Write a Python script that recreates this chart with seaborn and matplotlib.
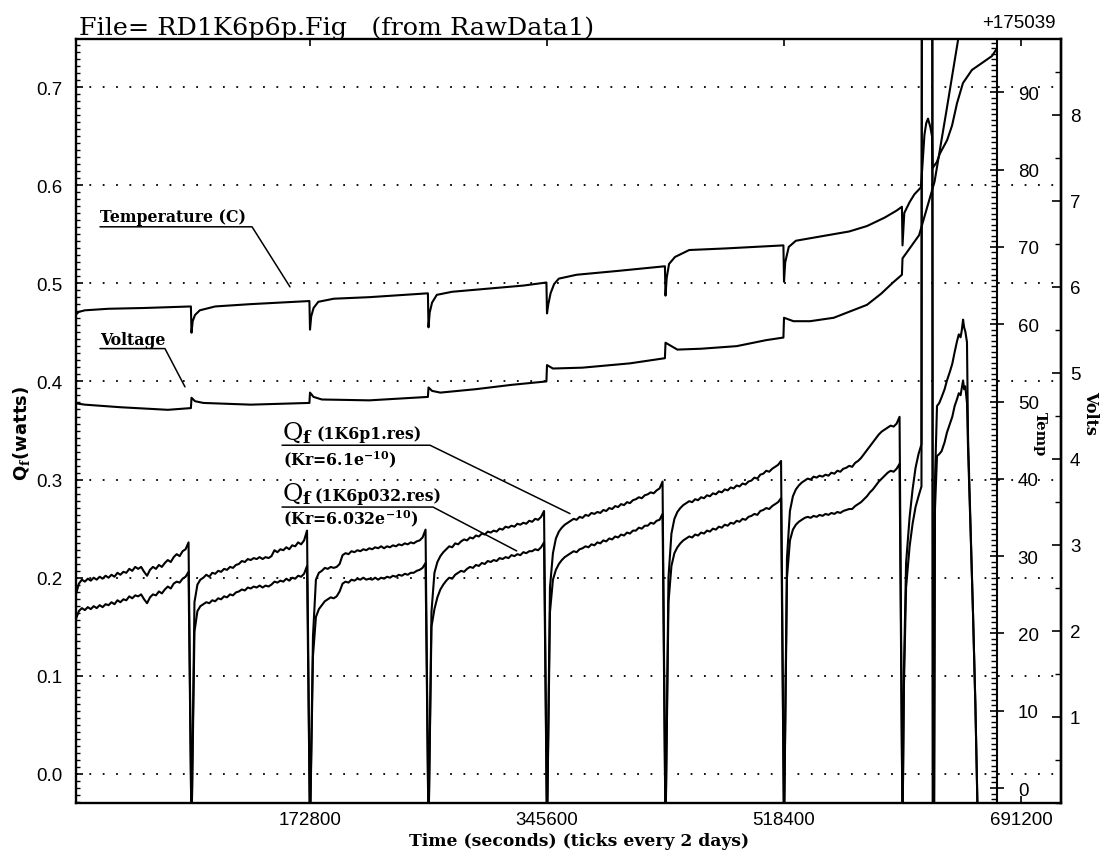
import numpy as np
import pandas as pd
import matplotlib
matplotlib.use("Agg")
import matplotlib.pyplot as plt
from matplotlib.ticker import FixedLocator, MultipleLocator
import seaborn as sns

sns.set_theme(style="white")
plt.rcParams.update({
    "font.family": ["Liberation Sans", "DejaVu Sans"],
    "mathtext.fontset": "dejavuserif",
    "axes.edgecolor": "black",
    "axes.linewidth": 1.5,
    "xtick.color": "black",
    "ytick.color": "black",
    "text.color": "black",
    "axes.labelcolor": "black",
})

DAY = 86400.0
STEP = 0.025  # days between Qf samples within each daily run

# ---- Qf from 1K6p1.res (Kr = 6.1e-10), one row per day, 40 samples each ----
qf_p1_rows = [
    [0.158, 0.183, 0.194, 0.198, 0.196, 0.199, 0.197, 0.200, 0.198, 0.201,
     0.199, 0.202, 0.200, 0.203, 0.201, 0.205, 0.203, 0.206, 0.205, 0.209,
     0.207, 0.211, 0.209, 0.211, 0.206, 0.202, 0.208, 0.211, 0.209, 0.213,
     0.211, 0.215, 0.218, 0.216, 0.221, 0.224, 0.222, 0.227, 0.229, 0.236],
    [-0.060, 0.175, 0.193, 0.198, 0.200, 0.203, 0.201, 0.205, 0.204, 0.207,
     0.206, 0.209, 0.208, 0.211, 0.210, 0.213, 0.214, 0.217, 0.216, 0.219,
     0.218, 0.220, 0.219, 0.221, 0.219, 0.221, 0.220, 0.222, 0.228, 0.226,
     0.229, 0.228, 0.231, 0.229, 0.233, 0.232, 0.236, 0.234, 0.238, 0.248],
    [-0.060, 0.140, 0.198, 0.205, 0.207, 0.210, 0.209, 0.211, 0.210, 0.211,
     0.214, 0.223, 0.225, 0.224, 0.227, 0.226, 0.228, 0.227, 0.229, 0.228,
     0.230, 0.229, 0.231, 0.230, 0.232, 0.230, 0.232, 0.231, 0.233, 0.232,
     0.234, 0.233, 0.235, 0.234, 0.236, 0.235, 0.237, 0.238, 0.241, 0.249],
    [-0.060, 0.165, 0.205, 0.216, 0.222, 0.226, 0.229, 0.232, 0.231, 0.235,
     0.234, 0.237, 0.239, 0.238, 0.241, 0.240, 0.243, 0.242, 0.245, 0.244,
     0.247, 0.246, 0.248, 0.247, 0.250, 0.249, 0.252, 0.251, 0.253, 0.252,
     0.255, 0.254, 0.256, 0.255, 0.258, 0.257, 0.260, 0.259, 0.262, 0.268],
    [-0.060, 0.190, 0.225, 0.240, 0.247, 0.251, 0.254, 0.256, 0.258, 0.260,
     0.259, 0.262, 0.261, 0.264, 0.263, 0.266, 0.265, 0.267, 0.266, 0.269,
     0.268, 0.271, 0.270, 0.273, 0.272, 0.275, 0.274, 0.277, 0.276, 0.279,
     0.280, 0.282, 0.281, 0.284, 0.285, 0.287, 0.286, 0.289, 0.291, 0.298],
    [-0.060, 0.200, 0.245, 0.260, 0.267, 0.271, 0.274, 0.276, 0.278, 0.277,
     0.280, 0.279, 0.282, 0.281, 0.284, 0.283, 0.286, 0.285, 0.288, 0.287,
     0.290, 0.289, 0.292, 0.291, 0.294, 0.293, 0.296, 0.295, 0.298, 0.299,
     0.302, 0.301, 0.305, 0.306, 0.309, 0.308, 0.311, 0.313, 0.315, 0.319],
    [-0.060, 0.220, 0.268, 0.283, 0.290, 0.294, 0.297, 0.299, 0.301, 0.300,
     0.303, 0.302, 0.304, 0.303, 0.305, 0.304, 0.307, 0.306, 0.309, 0.308,
     0.311, 0.312, 0.314, 0.313, 0.317, 0.319, 0.322, 0.326, 0.330, 0.334,
     0.338, 0.342, 0.346, 0.349, 0.351, 0.353, 0.355, 0.354, 0.357, 0.364],
]

# ---- Qf from 1K6p032.res (Kr = 6.032e-10) ----
qf_p032_rows = [
    [0.140, 0.158, 0.166, 0.169, 0.167, 0.170, 0.168, 0.171, 0.169, 0.172,
     0.170, 0.173, 0.172, 0.175, 0.173, 0.177, 0.175, 0.178, 0.177, 0.181,
     0.179, 0.182, 0.181, 0.183, 0.178, 0.174, 0.180, 0.183, 0.182, 0.186,
     0.184, 0.188, 0.191, 0.189, 0.194, 0.196, 0.195, 0.199, 0.201, 0.206],
    [-0.060, 0.145, 0.166, 0.171, 0.173, 0.175, 0.174, 0.177, 0.176, 0.179,
     0.178, 0.181, 0.180, 0.183, 0.182, 0.185, 0.186, 0.188, 0.187, 0.190,
     0.189, 0.191, 0.190, 0.192, 0.190, 0.192, 0.191, 0.193, 0.196, 0.195,
     0.197, 0.196, 0.199, 0.197, 0.200, 0.199, 0.202, 0.201, 0.204, 0.212],
    [-0.060, 0.120, 0.160, 0.168, 0.172, 0.176, 0.178, 0.180, 0.179, 0.181,
     0.186, 0.194, 0.196, 0.195, 0.198, 0.197, 0.199, 0.198, 0.200, 0.198,
     0.199, 0.198, 0.200, 0.198, 0.200, 0.199, 0.201, 0.200, 0.202, 0.201,
     0.203, 0.202, 0.204, 0.203, 0.205, 0.205, 0.207, 0.208, 0.210, 0.215],
    [-0.060, 0.150, 0.168, 0.180, 0.188, 0.193, 0.197, 0.200, 0.199, 0.203,
     0.205, 0.207, 0.206, 0.209, 0.211, 0.210, 0.213, 0.212, 0.215, 0.214,
     0.217, 0.216, 0.218, 0.217, 0.220, 0.219, 0.221, 0.220, 0.223, 0.222,
     0.224, 0.223, 0.226, 0.225, 0.227, 0.227, 0.229, 0.228, 0.231, 0.236],
    [-0.060, 0.165, 0.198, 0.208, 0.214, 0.218, 0.221, 0.223, 0.225, 0.227,
     0.226, 0.229, 0.230, 0.232, 0.231, 0.234, 0.233, 0.236, 0.235, 0.238,
     0.237, 0.240, 0.239, 0.242, 0.241, 0.244, 0.243, 0.246, 0.245, 0.248,
     0.248, 0.251, 0.250, 0.253, 0.253, 0.256, 0.255, 0.258, 0.259, 0.265],
    [-0.060, 0.175, 0.212, 0.225, 0.231, 0.235, 0.238, 0.240, 0.242, 0.241,
     0.244, 0.243, 0.246, 0.245, 0.248, 0.247, 0.250, 0.249, 0.252, 0.251,
     0.254, 0.253, 0.256, 0.255, 0.258, 0.257, 0.260, 0.259, 0.262, 0.263,
     0.265, 0.264, 0.268, 0.269, 0.271, 0.270, 0.273, 0.275, 0.277, 0.281],
    [-0.060, 0.200, 0.238, 0.249, 0.254, 0.257, 0.259, 0.261, 0.262, 0.261,
     0.263, 0.262, 0.264, 0.263, 0.265, 0.264, 0.266, 0.265, 0.267, 0.266,
     0.268, 0.269, 0.270, 0.270, 0.273, 0.275, 0.277, 0.280, 0.283, 0.287,
     0.290, 0.294, 0.298, 0.301, 0.304, 0.307, 0.309, 0.308, 0.311, 0.316],
]

# ---- last run (day 7 onward): irregular sampling around the power excursion ----
final_days = [7.000, 7.012, 7.030, 7.060, 7.085, 7.110, 7.135, 7.160, 7.166, 7.249,
              7.256, 7.266, 7.274, 7.291, 7.310, 7.330, 7.355, 7.375, 7.400, 7.420,
              7.440, 7.460, 7.475, 7.490, 7.500, 7.511, 7.520, 7.530, 7.544, 7.553,
              7.575, 7.595, 7.615, 7.637]
final_p1 = [-0.060, 0.105, 0.215, 0.262, 0.290, 0.312, 0.326, 0.336, 1.200, 1.200,
            -0.060, -0.060, 0.300, 0.375, 0.378, 0.384, 0.392, 0.401, 0.410, 0.418,
            0.430, 0.441, 0.448, 0.445, 0.452, 0.463, 0.455, 0.451, 0.440, 0.343,
            0.250, 0.163, 0.070, -0.060]
final_p032 = [-0.060, 0.090, 0.190, 0.232, 0.255, 0.272, 0.283, 0.293, 1.200, 1.200,
              -0.060, -0.060, 0.270, 0.324, 0.326, 0.329, 0.338, 0.348, 0.357, 0.364,
              0.375, 0.382, 0.388, 0.386, 0.393, 0.401, 0.392, 0.395, 0.378, 0.331,
              0.245, 0.163, 0.070, -0.060]

# ---- cell temperature (C) ----
temp_days = [0.000, 0.020, 0.050, 0.100, 0.300, 0.600, 0.995,
             1.000, 1.010, 1.030, 1.070, 1.200, 1.500, 1.995,
             2.000, 2.010, 2.030, 2.070, 2.200, 2.500, 2.995,
             3.000, 3.010, 3.030, 3.070, 3.200, 3.500, 3.800, 3.995,
             4.000, 4.010, 4.030, 4.060, 4.100, 4.250, 4.600, 4.995,
             5.000, 5.010, 5.030, 5.080, 5.200, 5.500, 5.995,
             6.000, 6.010, 6.040, 6.100, 6.250, 6.550, 6.700, 6.850, 6.950, 6.995,
             7.000, 7.015, 7.060, 7.100, 7.155, 7.168, 7.185, 7.200, 7.215, 7.235,
             7.249, 7.254, 7.290, 7.316, 7.376, 7.418, 7.460, 7.510, 7.586, 7.671,
             7.755, 7.789]
temp_c = [60.5, 61.2, 61.6, 61.8, 62.0, 62.1, 62.3,
          58.9, 60.4, 61.2, 61.8, 62.3, 62.6, 63.0,
          59.3, 61.0, 62.1, 62.9, 63.3, 63.5, 64.0,
          59.6, 61.5, 62.8, 63.8, 64.2, 64.6, 65.0, 65.4,
          61.4, 62.5, 64.0, 65.2, 65.9, 66.4, 66.9, 67.5,
          63.7, 66.0, 67.8, 68.7, 69.6, 69.8, 70.2,
          65.5, 68.0, 70.0, 70.8, 71.2, 72.0, 72.7, 73.8, 74.7, 75.2,
          70.2, 74.4, 75.8, 76.8, 77.7, 80.5, 84.5, 86.0, 86.6, 85.5,
          84.3, 80.2, 81.0, 82.1, 83.8, 85.7, 88.6, 91.2, 92.9, 93.8,
          94.7, 95.5]

# ---- cell voltage (V) ----
volt_days = [0.000, 0.100, 0.400, 0.800, 0.995,
             1.000, 1.030, 1.100, 1.500, 1.995,
             2.000, 2.030, 2.100, 2.500, 2.995,
             3.000, 3.030, 3.100, 3.400, 3.700, 3.995,
             4.000, 4.050, 4.300, 4.700, 4.995,
             5.000, 5.100, 5.300, 5.600, 5.850, 5.995,
             6.000, 6.080, 6.220, 6.420, 6.700, 6.820, 6.920, 6.995,
             7.000, 7.140, 7.270, 7.370, 7.470, 7.520]
volt_v = [4.65, 4.63, 4.60, 4.57, 4.59,
          4.71, 4.67, 4.65, 4.63, 4.65,
          4.77, 4.72, 4.69, 4.68, 4.72,
          4.83, 4.79, 4.77, 4.81, 4.86, 4.90,
          5.09, 5.05, 5.06, 5.11, 5.17,
          5.35, 5.27, 5.28, 5.31, 5.38, 5.41,
          5.64, 5.60, 5.60, 5.64, 5.79, 5.92, 6.05, 6.14,
          6.33, 6.60, 7.22, 8.04, 8.88, 9.50]

x_ticks = [172800, 345600, 518400, 691200]
q_ticks = [0.0, 0.1, 0.2, 0.3, 0.4, 0.5, 0.6, 0.7]
temp_ticks = [0, 10, 20, 30, 40, 50, 60, 70, 80, 90]
volt_ticks = [1, 2, 3, 4, 5, 6, 7, 8]


def qf_frame(rows, tail_days, tail_vals):
    t, v = [], []
    for k, row in enumerate(rows):
        t.extend(k + STEP * np.arange(len(row)))
        v.extend(row)
    t.extend(tail_days)
    v.extend(tail_vals)
    return pd.DataFrame({"time": np.asarray(t) * DAY, "qf": v})


df_p1 = qf_frame(qf_p1_rows, final_days, final_p1)
df_p032 = qf_frame(qf_p032_rows, final_days, final_p032)
df_temp = pd.DataFrame({"time": np.asarray(temp_days) * DAY, "temp": temp_c})
df_volt = pd.DataFrame({"time": np.asarray(volt_days) * DAY, "volts": volt_v})

W, H = 1101, 853
fig = plt.figure(figsize=(W / 100, H / 100), dpi=100)
ax = fig.add_axes([76 / W, 1 - 804 / H, 985 / W, 764 / H])
ax_t = ax.twinx()
ax_v = ax.twinx()

line_kw = dict(color="black", linewidth=1.5, sort=False, estimator=None)
sns.lineplot(data=df_p1, x="time", y="qf", ax=ax, **line_kw)
sns.lineplot(data=df_p032, x="time", y="qf", ax=ax, **line_kw)
sns.lineplot(data=df_temp, x="time", y="temp", ax=ax_t, **line_kw)
sns.lineplot(data=df_volt, x="time", y="volts", ax=ax_v, **line_kw)

# ---- main (Qf) axis ----
ax.set_xlim(2190, 720350)
ax.set_ylim(-0.0296, 0.749)
ax.xaxis.set_major_locator(FixedLocator(x_ticks))
ax.set_xticklabels([str(v) for v in x_ticks])
ax.yaxis.set_major_locator(FixedLocator(q_ticks))
ax.set_yticklabels([f"{v:.1f}" for v in q_ticks])
ax.yaxis.set_minor_locator(MultipleLocator(0.1 / 14))
ax.grid(False)
ax.yaxis.grid(True, which="major", linestyle=(0, (1, 6.4)), linewidth=1.3,
              color="black")
ax.tick_params(axis="x", which="major", direction="in", length=5, width=1.2,
               top=True, bottom=True, labelsize=13.5, pad=6)
ax.tick_params(axis="y", which="major", direction="in", length=5, width=1.2,
               left=True, right=False, labelsize=13.5, pad=10)
ax.tick_params(axis="y", which="minor", direction="in", length=3, width=1.0,
               left=True, right=False)
for side in ("top", "bottom", "left", "right"):
    ax.spines[side].set_linewidth(1.7)
    ax.spines[side].set_color("black")

ax.set_xlabel("Time (seconds) (ticks every 2 days)", fontfamily="DejaVu Serif",
              fontweight="bold", fontsize=12.3, va="center")
ax.xaxis.set_label_coords((579 - 76) / 985, (804 - 842) / 764)
ax.set_ylabel(r"Q$_\mathbf{f}$(watts)", fontfamily="DejaVu Sans", fontweight="bold",
              fontsize=13, va="center")
ax.yaxis.set_label_coords((22 - 76) / 985, (804 - 433) / 764)

# ---- temperature axis, drawn inside the frame ----
ax_t.set_ylim(-1.94, 96.9)
for side in ("top", "bottom", "left"):
    ax_t.spines[side].set_visible(False)
ax_t.spines["right"].set_position(("axes", (997 - 76) / 985))
ax_t.spines["right"].set_linewidth(1.5)
ax_t.spines["right"].set_color("black")
ax_t.yaxis.set_major_locator(FixedLocator(temp_ticks))
ax_t.set_yticklabels([str(v) for v in temp_ticks])
ax_t.yaxis.set_minor_locator(MultipleLocator(10 / 14))
ax_t.tick_params(axis="y", which="major", direction="inout", length=10, width=1.2,
                 labelsize=13.5, pad=10)
ax_t.tick_params(axis="y", which="minor", direction="in", length=4, width=1.0)
ax_t.set_ylabel("Temp", rotation=-90, fontfamily="DejaVu Serif", fontweight="bold",
                fontsize=10.5, va="center")
ax_t.yaxis.set_label_coords((1040 - 76) / 985, (804 - 434) / 764)
ax_t.grid(False)

# ---- volts axis on the right frame edge ----
ax_v.set_ylim(0, 8.88)
for side in ("top", "bottom", "left"):
    ax_v.spines[side].set_visible(False)
ax_v.spines["right"].set_linewidth(1.7)
ax_v.spines["right"].set_color("black")
ax_v.yaxis.set_major_locator(FixedLocator(volt_ticks))
ax_v.set_yticklabels([str(v) for v in volt_ticks])
ax_v.yaxis.set_minor_locator(MultipleLocator(0.5))
ax_v.tick_params(axis="y", which="major", direction="in", length=6.5, width=1.2,
                 labelsize=13.5, pad=6.5)
ax_v.tick_params(axis="y", which="minor", direction="in", length=4.3, width=1.0)
ax_v.set_ylabel("Volts", rotation=-90, fontfamily="DejaVu Serif", fontweight="bold",
                fontsize=11.5, va="center")
ax_v.yaxis.set_label_coords((1091 - 76) / 985, (804 - 413) / 764)
ax_v.grid(False)

# ---- curve labels with underline and leader line (positions in days, watts) ----
note_font = dict(fontfamily="DejaVu Serif", fontweight="bold", fontsize=11.3)


def leader(x0, x1, y, tx, ty):
    ax.plot([x0 * DAY, x1 * DAY, tx * DAY], [y, y, ty], color="black",
            linewidth=1.1, clip_on=False)


ax.text(0.228 * DAY, 0.5637, "Temperature (C)", va="baseline", **note_font)
leader(0.228, 1.511, 0.5576, 1.831, 0.4964)

ax.text(0.228 * DAY, 0.4386, "Voltage", va="baseline", **note_font)
leader(0.228, 0.776, 0.4335, 0.945, 0.3945)

ax.text(1.764 * DAY, 0.3415, r"Q$_\mathbf{f}$", va="baseline",
        fontfamily="DejaVu Serif", fontsize=18)
ax.text(2.059 * DAY, 0.342, "(1K6p1.res)", va="baseline", **note_font)
ax.text(1.772 * DAY, 0.316, r"(Kr=6.1e$^{\mathbf{-10}}$)", va="baseline", **note_font)
leader(1.764, 3.013, 0.335, 4.194, 0.2653)

ax.text(1.764 * DAY, 0.279, r"Q$_\mathbf{f}$", va="baseline",
        fontfamily="DejaVu Serif", fontsize=18)
ax.text(2.042 * DAY, 0.279, "(1K6p032.res)", va="baseline", **note_font)
ax.text(1.772 * DAY, 0.255, r"(Kr=6.032e$^{\mathbf{-10}}$)", va="baseline", **note_font)
leader(1.764, 3.038, 0.272, 3.744, 0.2273)

# ---- header texts ----
fig.text(79 / W, 1 - 35 / H, "File= RD1K6p6p.Fig   (from RawData1)",
         fontfamily="DejaVu Serif", fontsize=18.3, ha="left", va="baseline")
fig.text(1056 / W, 1 - 23 / H, "+175039", fontsize=13.5, ha="right", va="center")

fig.savefig("out.png", dpi=100)
